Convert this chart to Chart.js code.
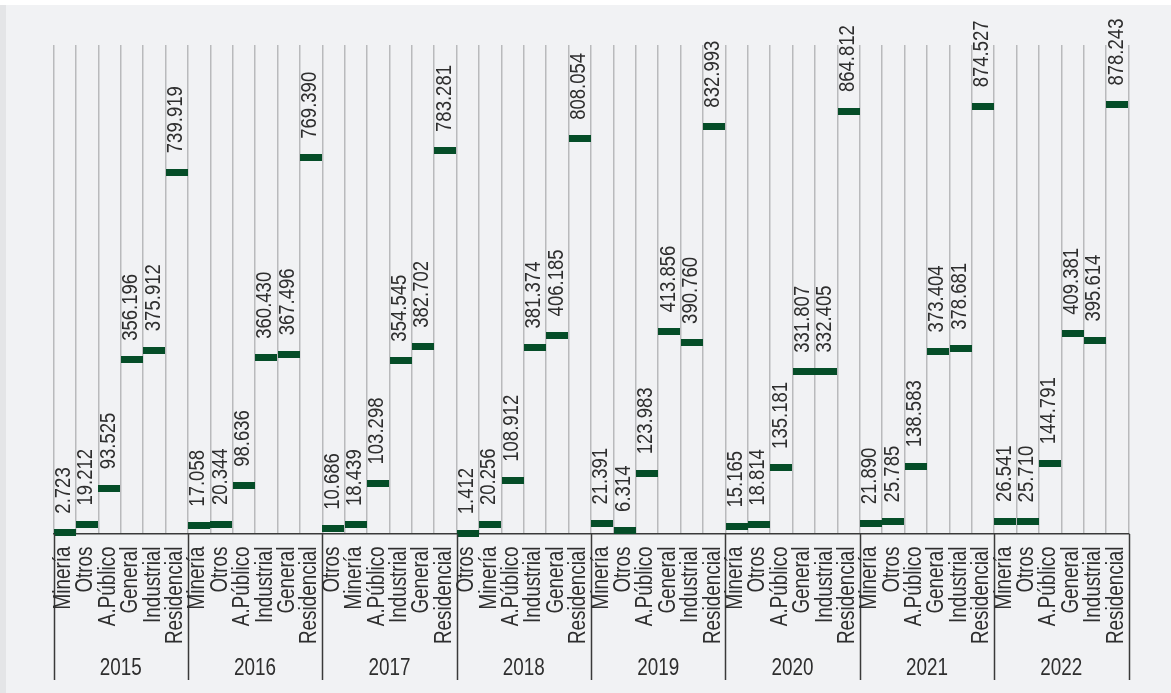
<!DOCTYPE html>
<html>
<head>
<meta charset="utf-8">
<title>Consumo por sector</title>
<script src="https://cdn.jsdelivr.net/npm/chart.js@4"></script>
<style>
  body { margin: 0; background: #f1f2f4; }
  #wrap { position: relative; width: 1171px; height: 693px; }
</style>
</head>
<body>
<div id="wrap"><canvas id="chart"></canvas></div>

<script>
  // data
  const years = ["2015", "2016", "2017", "2018", "2019", "2020", "2021", "2022"];

  const cats2015 = ["Minería", "Otros", "A.Público", "General", "Industrial", "Residencial"];
  const cats2016 = ["Minería", "Otros", "A.Público", "Industrial", "General", "Residencial"];
  const cats2017 = ["Otros", "Minería", "A.Público", "Industrial", "General", "Residencial"];
  const cats2018 = ["Otros", "Minería", "A.Público", "Industrial", "General", "Residencial"];
  const cats2019 = ["Minería", "Otros", "A.Público", "General", "Industrial", "Residencial"];
  const cats2020 = ["Minería", "Otros", "A.Público", "General", "Industrial", "Residencial"];
  const cats2021 = ["Minería", "Otros", "A.Público", "General", "Industrial", "Residencial"];
  const cats2022 = ["Minería", "Otros", "A.Público", "General", "Industrial", "Residencial"];

  const vals2015 = [2.723, 19.212, 93.525, 356.196, 375.912, 739.919];
  const vals2016 = [17.058, 20.344, 98.636, 360.430, 367.496, 769.390];
  const vals2017 = [10.686, 18.439, 103.298, 354.545, 382.702, 783.281];
  const vals2018 = [1.412, 20.256, 108.912, 381.374, 406.185, 808.054];
  const vals2019 = [21.391, 6.314, 123.983, 413.856, 390.760, 832.993];
  const vals2020 = [15.165, 18.814, 135.181, 331.807, 332.405, 864.812];
  const vals2021 = [21.890, 25.785, 138.583, 373.404, 378.681, 874.527];
  const vals2022 = [26.541, 25.710, 144.791, 409.381, 395.614, 878.243];

  const labels = [].concat(cats2015, cats2016, cats2017, cats2018, cats2019, cats2020, cats2021, cats2022);
  const values = [].concat(vals2015, vals2016, vals2017, vals2018, vals2019, vals2020, vals2021, vals2022);
  const perGroup = cats2015.length;

  const green = "rgb(5, 77, 40)";
  const textColor = "#2e2e2e";
  // no narrow font installed: Liberation Sans squeezed to look like Arial Narrow
  const font = "'Liberation Sans', Arial, sans-serif";
  const squeeze = 0.82;

  // flat dash marker used as point style
  const marker = document.createElement("canvas");
  marker.width = 22;
  marker.height = 7;
  {
    const m = marker.getContext("2d");
    m.fillStyle = green;
    m.fillRect(0, 0, 22, 7);
  }

  function upText(ctx, text, px, py, align) {
    ctx.save();
    ctx.translate(px, py);
    ctx.rotate(-Math.PI / 2);
    ctx.scale(squeeze, 1);
    ctx.textAlign = align;
    ctx.fillText(text, 0, 0);
    ctx.restore();
  }

  const decor = {
    id: "decor",
    beforeDraw(chart) {
      const ctx = chart.ctx;
      ctx.save();
      ctx.fillStyle = "#f1f2f4";
      ctx.fillRect(0, 0, chart.width, chart.height);
      ctx.fillStyle = "#ffffff";
      ctx.fillRect(0, 0, chart.width, 5);
      ctx.fillStyle = "#e4e5e7";
      ctx.fillRect(0, 5, 6, chart.height - 5);
      ctx.restore();
    },
    afterDraw(chart) {
      const ctx = chart.ctx;
      const x = chart.scales.x;
      const y = chart.scales.y;
      const step = x.width / labels.length;
      const axisY = chart.chartArea.bottom;

      ctx.save();
      // year separators
      ctx.strokeStyle = "#3a3a3a";
      ctx.lineWidth = 1.5;
      for (let g = 0; g <= years.length; g++) {
        const bx = Math.round(x.getPixelForValue(g * perGroup) - step / 2) + 0.5;
        ctx.beginPath();
        ctx.moveTo(bx, axisY);
        ctx.lineTo(bx, 680);
        ctx.stroke();
      }

      ctx.fillStyle = textColor;
      ctx.textBaseline = "middle";

      // year names
      ctx.font = "23px " + font;
      years.forEach((yr, g) => {
        const cx = (x.getPixelForValue(g * perGroup) + x.getPixelForValue(g * perGroup + perGroup - 1)) / 2;
        ctx.save();
        ctx.translate(cx, 669);
        ctx.scale(squeeze, 1);
        ctx.textAlign = "center";
        ctx.fillText(yr, 0, 0);
        ctx.restore();
      });

      // category names under the axis
      ctx.font = "23px " + font;
      labels.forEach((lab, i) => {
        upText(ctx, x.getLabelForValue(i), x.getPixelForValue(i) - 1, axisY + 12.5, "right");
      });

      // value labels above the markers
      ctx.font = "22.6px " + font;
      values.forEach((v, i) => {
        upText(ctx, v.toFixed(3), x.getPixelForValue(i) - 1, y.getPixelForValue(v) - 19, "left");
      });
      ctx.restore();
    }
  };

  new Chart(document.getElementById("chart"), {
    type: "line",
    data: {
      labels: labels,
      datasets: [{
        data: values,
        showLine: false,
        pointStyle: marker,
        pointRadius: 6,
        clip: false
      }]
    },
    options: {
      responsive: true,
      maintainAspectRatio: false,
      animation: false,
      layout: { padding: { left: 53.5, right: 42.5, top: 45, bottom: 0 } },
      plugins: { legend: { display: false }, tooltip: { enabled: false } },
      scales: {
        x: {
          type: "category",
          offset: true,
          afterFit(scale) { scale.height = 159; },
          grid: { offset: true, color: "#b9babc", lineWidth: 1.5, drawTicks: false },
          border: { display: true, color: "#3a3a3a", width: 1.5 },
          ticks: { display: false, autoSkip: false }
        },
        y: { display: false, min: 0, max: 1000 }
      }
    },
    plugins: [decor]
  });
</script>
</body>
</html>
